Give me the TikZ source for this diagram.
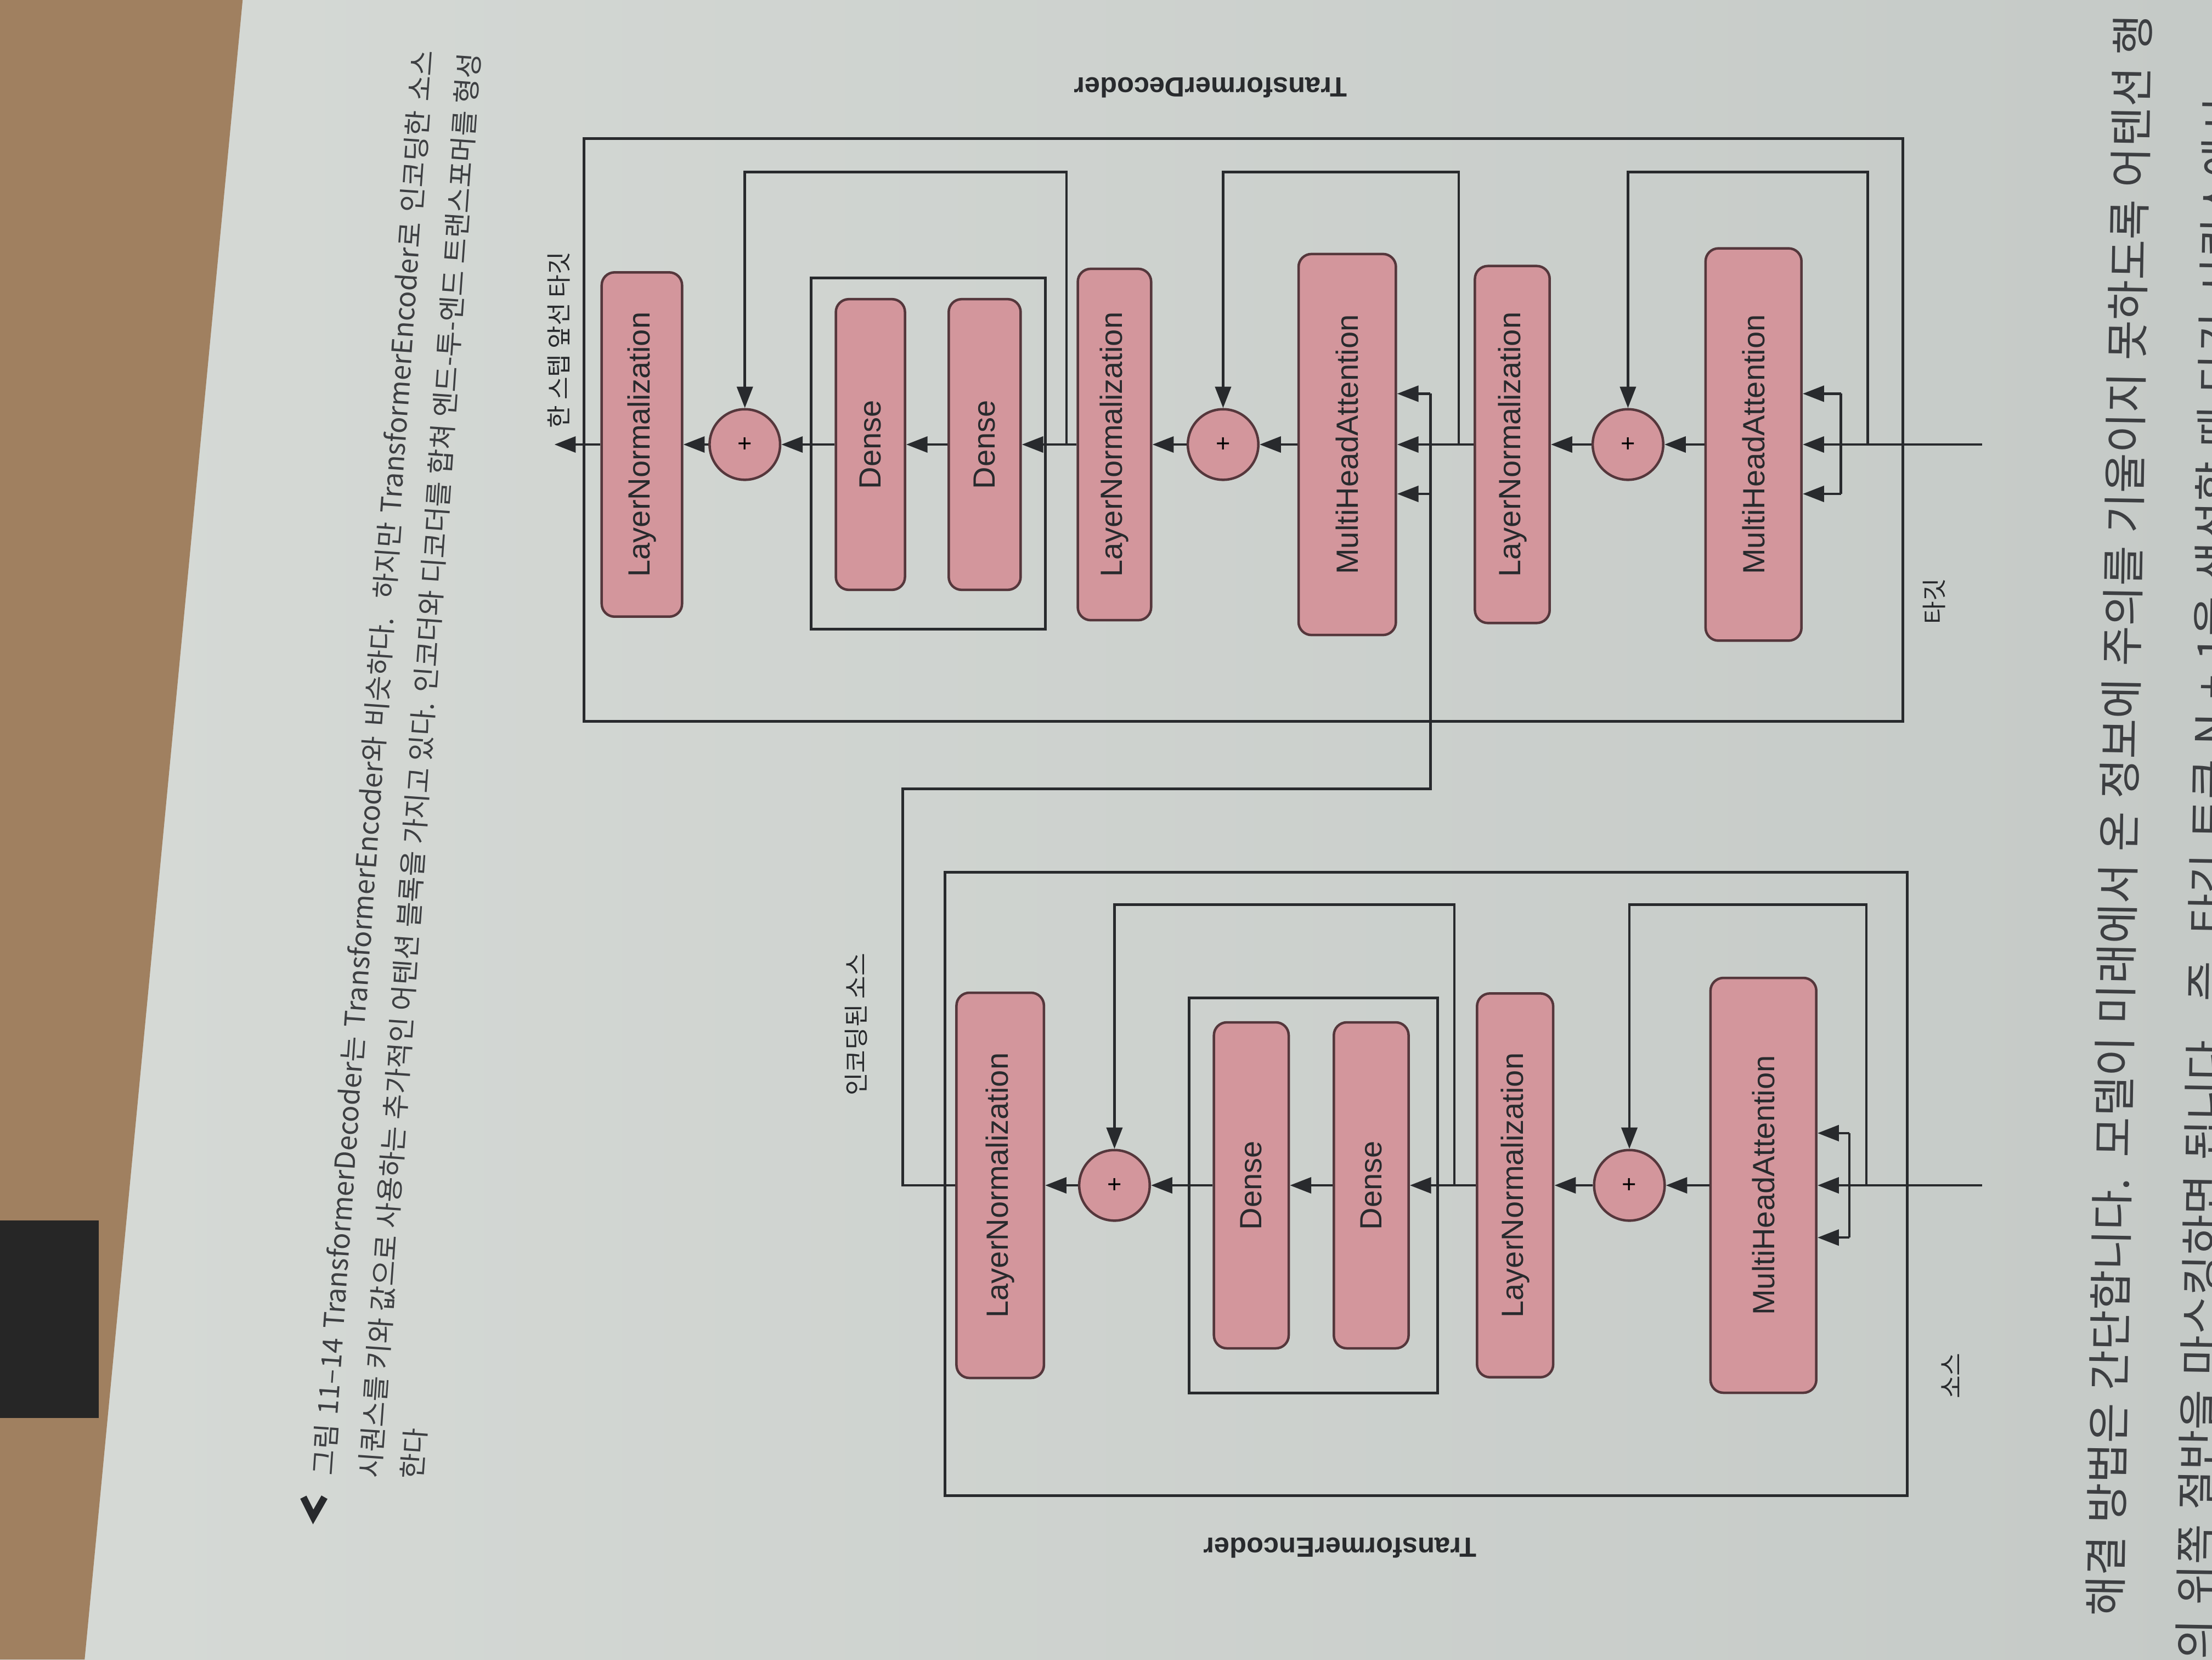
\documentclass[tikz,border=0pt]{standalone}
\usepackage{fontspec}
\setmainfont{Liberation Sans}
\newfontfamily\kr{Noto Sans CJK KR}
\usepackage{tikz}
\usetikzlibrary{arrows.meta}
\definecolor{paperL}{RGB}{214,218,214}
\definecolor{paperR}{RGB}{197,202,199}
\definecolor{wood}{RGB}{160,128,96}
\definecolor{ink}{RGB}{40,42,45}
\definecolor{rose}{RGB}{211,150,156}
\definecolor{roseline}{RGB}{85,55,60}
\tikzset{
  blk/.style={draw=roseline, line width=0.5pt, fill=rose, rounded corners=2.6pt, inner sep=0pt, font=\fontsize{6.2}{7}\selectfont, text=ink},
  addc/.style={circle, draw=roseline, line width=0.5pt, fill=rose, minimum size=5mm, inner sep=0pt, font=\fontsize{5}{5}\selectfont},
  wire/.style={draw=ink, line width=0.5pt},
  arr/.style={wire, -{Triangle[length=4.3pt,width=3.2pt]}},
  frame/.style={draw=ink, line width=0.55pt},
  tag/.style={font=\kr\fontsize{5}{6}\selectfont, text=ink, inner sep=0pt, rotate=90},
  boxname/.style={font=\bfseries\fontsize{5.6}{6}\selectfont, text=ink, inner sep=0pt, rotate=180},
  captxt/.style={font=\kr\fontsize{5.6}{6}\selectfont, text=ink!90, inner sep=0pt, rotate=86, anchor=west},
  bodytxt/.style={font=\kr\fontsize{8.8}{9}\selectfont, text=ink!90, inner sep=0pt, rotate=89, anchor=west},
}
\newcommand{\layerbox}[6]{\node[blk, minimum width=#4, minimum height=#5] (#1) at (#2,#3) {\rotatebox{90}{#6}};}
\newcommand{\addnode}[3]{\node[addc] (#1) at (#2,#3) {+};}

\begin{document}
\begin{tikzpicture}[x=0.1mm,y=-0.1mm]
        \useasboundingbox (0,0) rectangle (1568,1176);
        \clip (0,0) rectangle (1568,1176);
        % page
        \shade[left color=paperL, right color=paperR] (0,0) rectangle (1568,1176);
        \fill[wood] (0,0) -- (172,0) -- (60,1176) -- (0,1176) -- cycle;
        \fill[black!85] (0,865) rectangle (70,1005);
        % caption
        \draw[ink, line width=1.4pt] (215,1061) -- (222,1075) -- (230,1061);
        \node[captxt] (cap1) at (229,1046) {\makebox[288pt][s]{그림 11–14 TransformerDecoder는 TransformerEncoder와 비슷하다. 하지만 TransformerEncoder로 인코딩한 소스}};
        \node[captxt] (cap2) at (262,1048) {\makebox[288pt][s]{시퀀스를 키와 값으로 사용하는 추가적인 어텐션 블록을 가지고 있다. 인코더와 디코더를 합쳐 엔드-투-엔드 트랜스포머를 형성}};
        \node[captxt] (cap3) at (292,1049) {한다};
        % body text
        \node[bodytxt] (body1) at (1492,1146) {\makebox[323pt][s]{해결 방법은 간단합니다. 모델이 미래에서 온 정보에 주의를 기울이지 못하도록 어텐션 행}};
        \node[bodytxt] (body2) at (1557,1205) {\makebox[323pt][s]{렬의 위쪽 절반을 마스킹하면 됩니다. 즉, 타깃 토큰 N + 1을 생성할 때 타깃 시퀀스에서}};
        % frames
        \draw[frame] (414,98) rectangle (1349,511);
        \draw[frame] (575,197) rectangle (741,446);
        \draw[frame] (670,618) rectangle (1352,1060);
        \draw[frame] (843,707) rectangle (1019,987);
        \node[boxname] (decname) at (858,62) {TransformerDecoder};
        \node[boxname] (encname) at (950,1097) {TransformerEncoder};
        % decoder blocks
        \layerbox{dLN3}{455}{315}{5.7mm}{24.4mm}{LayerNormalization}
        \addnode{dPlus3}{528}{315}
        \layerbox{dDense1}{617}{315}{4.9mm}{20.6mm}{Dense}
        \layerbox{dDense2}{698}{315}{5.1mm}{20.6mm}{Dense}
        \layerbox{dLN2}{790}{315}{5.2mm}{24.9mm}{LayerNormalization}
        \addnode{dPlus2}{867}{315}
        \layerbox{dMHA2}{955}{315}{6.9mm}{27mm}{MultiHeadAttention}
        \layerbox{dLN1}{1072}{315}{5.3mm}{25.3mm}{LayerNormalization}
        \addnode{dPlus1}{1154}{315}
        \layerbox{dMHA1}{1243}{315}{6.8mm}{27.8mm}{MultiHeadAttention}
        % encoder blocks
        \layerbox{eLN2}{709}{840}{6.2mm}{27.3mm}{LayerNormalization}
        \addnode{ePlus2}{790}{840}
        \layerbox{eDense1}{887}{840}{5.3mm}{23.1mm}{Dense}
        \layerbox{eDense2}{972}{840}{5.3mm}{23.1mm}{Dense}
        \layerbox{eLN1}{1074}{840}{5.4mm}{27.2mm}{LayerNormalization}
        \addnode{ePlus1}{1155}{840}
        \layerbox{eMHA}{1250}{840}{7.5mm}{29.4mm}{MultiHeadAttention}
        % labels
        \node[tag] (lblNext) at (396,241) {한 스텝 앞선 타깃};
        \node[tag] (lblTarget) at (1371,426) {타깃};
        \node[tag] (lblSource) at (1383,975) {소스};
        \node[tag] (lblEncoded) at (607,726) {인코딩된 소스};
        % decoder wires
        \coordinate (dIn) at (1405,315);
        \coordinate (dOut) at (393,315);
        \coordinate (dK1) at (1305,279);
        \coordinate (dV1) at (1305,350);
        \coordinate (dRes1) at (1324,315);
        \coordinate (dRes2) at (1034,315);
        \coordinate (dRes3) at (756,315);
        \coordinate (dK2) at (1014,279);
        \coordinate (dV2) at (1014,350);
        \draw[arr] (dIn) -- (dMHA1.east);
        \draw[wire] (dK1) -- (dV1);
        \draw[arr] (dK1) -- (dK1 -| dMHA1.east);
        \draw[arr] (dV1) -- (dV1 -| dMHA1.east);
        \draw[arr] (dRes1) -- ++(0,-193) -| (dPlus1.north);
        \draw[arr] (dMHA1.west) -- (dPlus1.east);
        \draw[arr] (dPlus1.west) -- (dLN1.east);
        \draw[arr] (dLN1.west) -- (dMHA2.east);
        \draw[arr] (dK2) -- (dK2 -| dMHA2.east);
        \draw[arr] (dV2) -- (dV2 -| dMHA2.east);
        \draw[arr] (dRes2) -- ++(0,-193) -| (dPlus2.north);
        \draw[arr] (dMHA2.west) -- (dPlus2.east);
        \draw[arr] (dPlus2.west) -- (dLN2.east);
        \draw[arr] (dLN2.west) -- (dDense2.east);
        \draw[arr] (dRes3) -- ++(0,-193) -| (dPlus3.north);
        \draw[arr] (dDense2.west) -- (dDense1.east);
        \draw[arr] (dDense1.west) -- (dPlus3.east);
        \draw[arr] (dPlus3.west) -- (dLN3.east);
        \draw[arr] (dLN3.west) -- (dOut);
        % encoder wires
        \coordinate (eIn) at (1405,840);
        \coordinate (eK) at (1311,803);
        \coordinate (eV) at (1311,877);
        \coordinate (eRes1) at (1323,840);
        \coordinate (eRes2) at (1031,840);
        \coordinate (eTap) at (640,559);
        \draw[arr] (eIn) -- (eMHA.east);
        \draw[wire] (eK) -- (eV);
        \draw[arr] (eK) -- (eK -| eMHA.east);
        \draw[arr] (eV) -- (eV -| eMHA.east);
        \draw[arr] (eRes1) -- ++(0,-199) -| (ePlus1.north);
        \draw[arr] (eMHA.west) -- (ePlus1.east);
        \draw[arr] (ePlus1.west) -- (eLN1.east);
        \draw[arr] (eLN1.west) -- (eDense2.east);
        \draw[arr] (eRes2) -- ++(0,-199) -| (ePlus2.north);
        \draw[arr] (eDense2.west) -- (eDense1.east);
        \draw[arr] (eDense1.west) -- (ePlus2.east);
        \draw[arr] (ePlus2.west) -- (eLN2.east);
        % encoder output into cross attention
        \draw[wire] (eLN2.west) -| (eTap) -| (dV2);
        \draw[wire] (dV2) -- (dK2);
\end{tikzpicture}
\end{document}
